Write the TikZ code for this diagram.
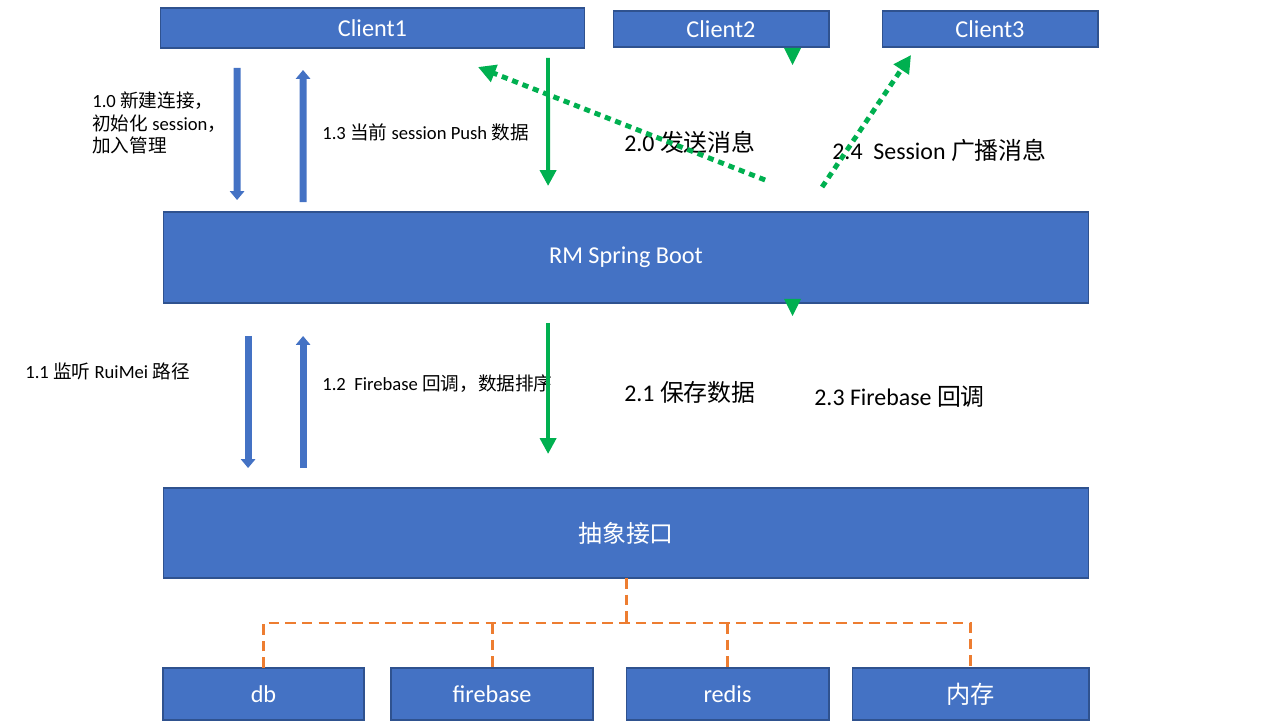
\documentclass[tikz,border=0pt]{standalone}
\usepackage{fontspec}
\setmainfont{Carlito}
\newfontfamily\cjk{Noto Sans CJK SC}
\usetikzlibrary{positioning,calc,arrows.meta}
\definecolor{boxblue}{HTML}{4472C4}
\definecolor{edgeblue}{HTML}{2F528F}
\definecolor{Fgreen}{HTML}{00B050}
\definecolor{Forange}{HTML}{ED7D31}
\newcommand{\zh}[1]{{\cjk #1}}

\begin{document}
\begin{tikzpicture}[x=0.02cm,y=-0.02cm,
  box/.style={fill=boxblue,draw=edgeblue,line width=0.6pt,text=white,inner sep=0pt,outer sep=0pt,font=\fontsize{13.8}{16}\selectfont},
  lbl/.style={anchor=west,inner sep=0pt,font=\fontsize{10.6}{12.8}\selectfont,align=left},
  biglbl/.style={anchor=west,inner sep=0pt,font=\fontsize{13.6}{16}\selectfont},
  bluearr/.style={draw=boxblue,line width=4pt,-{Triangle[width=8pt,length=5pt]}},
  greenarr/.style={draw=Fgreen,line width=2.2pt,-{Triangle[width=9pt,length=9pt]}},
  dotarr/.style={draw=Fgreen,line width=2.8pt,dash pattern=on 3.5pt off 2.8pt,-{Triangle[width=10pt,length=10pt]}},
  busline/.style={draw=Forange,line width=1.7pt,dash pattern=on 6pt off 3.5pt}]
  \clip (0,0) rectangle (1280,720);
  % clients
  \node[box,minimum width=8.5cm,minimum height=0.8cm] (c1) at (372.5,28) {Client1};
  \node[box,minimum width=4.32cm,minimum height=0.72cm] (c2) at (721,29) {Client2};
  \node[box,minimum width=4.32cm,minimum height=0.72cm] (c3) at (990,29) {Client3};
  % server and interface
  \node[box,minimum width=18.52cm,minimum height=1.82cm] (rm) at (626,257.5) {RM Spring Boot};
  \node[box,minimum width=18.52cm,minimum height=1.8cm,font=\fontsize{13.6}{16}\selectfont] (abs) at (626,533) {\zh{抽象接口}};
  % stores
  \node[box,minimum width=4.02cm,minimum height=1.04cm] (db) at (263.5,694) {db};
  \node[box,minimum width=4.04cm,minimum height=1.04cm] (fb) at (492,694) {firebase};
  \node[box,minimum width=4.06cm,minimum height=1.04cm] (rd) at (727.5,694) {redis};
  \node[box,minimum width=4.74cm,minimum height=1.04cm] (mem) at (970.5,694) {\zh{内存}};

  % labels
  \node[lbl] (t10) at (92,123) {1.0 \zh{新建连接，}\\\zh{初始化} session\zh{，}\\\zh{加入管理}};
  \node[lbl] (t13) at (322,132) {1.3 \zh{当前} session Push \zh{数据}};
  \node[biglbl] (t20) at (624,142) {2.0 \zh{发送消息}};
  \node[biglbl] (t24) at (832,150) {2.4\ \ Session \zh{广播消息}};
  \node[lbl] (t11) at (25,371) {1.1 \zh{监听} RuiMei \zh{路径}};
  \node[lbl] (t12) at (322,384) {1.2\ \ Firebase \zh{回调，数据排序}};
  \node[biglbl] (t21) at (624,392) {2.1 \zh{保存数据}};
  \node[biglbl] (t23) at (814,397) {2.3 Firebase \zh{回调}};

  % session flow
  \draw[bluearr] ($(c1.south west)+(77,20)$) -- ($(rm.north west)+(74,-12)$);
  \draw[bluearr] ($(rm.north west)+(140,-10)$) -- ($(c1.south west)+(143,22)$);
  \draw[bluearr] ($(rm.south west)+(85,33)$) -- ($(abs.north west)+(85,-20)$);
  \draw[bluearr] ($(abs.north west)+(140,-20)$) -- ($(rm.south west)+(140,33)$);

  % message flow
  \draw[greenarr] ($(c1.south west)+(388,10)$) -- ($(rm.north west)+(385,-26)$);
  \draw[greenarr] ($(rm.south west)+(385,20)$) -- ($(abs.north west)+(385,-34)$);
  \draw[dotarr] ($(rm.north west)+(602,-32)$) -- ($(c1.south east)+(-107,19)$);
  \draw[dotarr] ($(rm.north west)+(659,-25)$) -- ($(c3.south west)+(29,8)$);
  \fill[Fgreen] ($(c2.south)+(63,1)$) -- ++(17,0) -- ++(-8.5,17) -- cycle;
  \fill[Fgreen] ($(rm.south)+(158,-4)$) -- ++(17,0) -- ++(-8.5,17) -- cycle;

  % storage bus
  \coordinate (bus) at ($(abs.south)+(0,45)$);
  \draw[busline] (abs.south) -- (bus);
  \draw[busline] (db.north) |- (mem.north |- bus) -- (mem.north);
  \draw[busline] (fb.north |- bus) -- (fb.north);
  \draw[busline] (rd.north |- bus) -- (rd.north);
\end{tikzpicture}
\end{document}
